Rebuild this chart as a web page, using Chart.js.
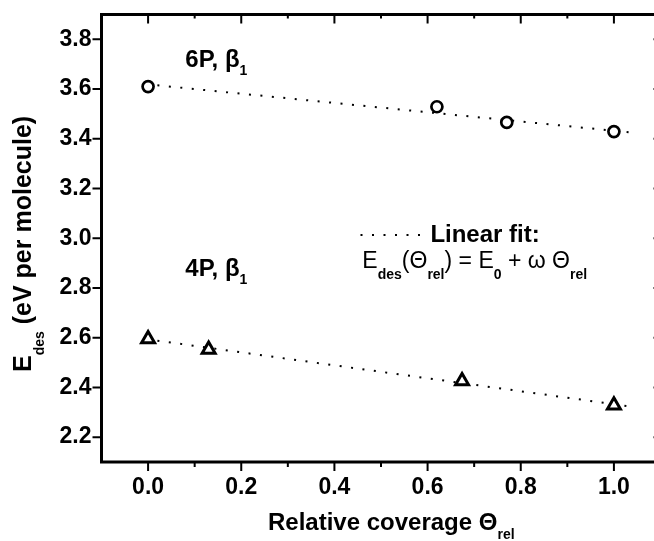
<!DOCTYPE html>
<html lang="en">
<head>
    <meta charset="UTF-8">
    <title>Desorption energy vs relative coverage</title>
    <script src="https://cdn.jsdelivr.net/npm/chart.js@4.4.0/dist/chart.umd.min.js"></script>
    <style>
        html, body {
            margin: 0;
            padding: 0;
            background: #fff;
            overflow: hidden;
        }
    </style>
</head>
<body>
    <canvas id="chart" width="671" height="541"></canvas>

    <script>
        // tick positions / labels
        const xTicks = [0.0, 0.2, 0.4, 0.6, 0.8, 1.0];
        const xMinorTicks = [0.1, 0.3, 0.5, 0.7, 0.9];
        const yTicks = [2.2, 2.4, 2.6, 2.8, 3.0, 3.2, 3.4, 3.6, 3.8];

        // 6P, beta1 (circles)
        const cover6P = [0.0, 0.62, 0.77, 1.0];
        const edes6P = [3.61, 3.529, 3.466, 3.429];

        // 4P, beta1 (triangles)
        const cover4P = [0.0, 0.13, 0.674, 1.0];
        const edes4P = [2.595, 2.553, 2.426, 2.328];

        // linear fits (end points)
        const fitX = [0.02, 1.04];
        const fit6P = [3.615, 3.425];
        const fit4P = [2.588, 2.322];

        const FAMILY = '"Liberation Sans", Arial, sans-serif';
        const bold = s => `bold ${s}px ${FAMILY}`;
        const plain = s => `${s}px ${FAMILY}`;

        function pts(xs, ys) {
            return xs.map((v, i) => ({ x: v, y: ys[i] }));
        }

        // draw a run of text pieces, some of them lowered as subscripts
        function drawRich(ctx, parts, x, y) {
            parts.forEach(p => {
                ctx.font = p.font;
                ctx.fillText(p.t, x, y + (p.dy || 0));
                x += ctx.measureText(p.t).width;
            });
        }

        const framePlugin = {
            id: 'frame',
            afterDraw(chart) {
                const { ctx, chartArea: a, scales: { x, y } } = chart;
                ctx.save();
                ctx.strokeStyle = '#000';
                ctx.fillStyle = '#000';

                // box
                ctx.lineWidth = 3;
                ctx.strokeRect(a.left, a.top, a.right - a.left, a.bottom - a.top);

                // ticks
                ctx.lineWidth = 2;
                ctx.beginPath();
                xTicks.forEach(v => {
                    const px = x.getPixelForValue(v);
                    ctx.moveTo(px, a.bottom); ctx.lineTo(px, a.bottom + 9);
                    ctx.moveTo(px, a.top); ctx.lineTo(px, a.top + 9);
                });
                xMinorTicks.forEach(v => {
                    const px = x.getPixelForValue(v);
                    ctx.moveTo(px, a.bottom); ctx.lineTo(px, a.bottom + 5);
                    ctx.moveTo(px, a.top); ctx.lineTo(px, a.top + 4);
                });
                yTicks.forEach(v => {
                    const py = y.getPixelForValue(v);
                    ctx.moveTo(a.left, py); ctx.lineTo(a.left - 9, py);
                    ctx.moveTo(a.right, py); ctx.lineTo(a.right - 7, py);
                });
                ctx.stroke();

                // series labels
                ctx.textAlign = 'left';
                ctx.textBaseline = 'alphabetic';
                drawRich(ctx, [
                    { t: '6P, β', font: bold(24) },
                    { t: '1', font: bold(14), dy: 8 }
                ], x.getPixelForValue(0.08), y.getPixelForValue(3.689));
                drawRich(ctx, [
                    { t: '4P, β', font: bold(24) },
                    { t: '1', font: bold(14), dy: 8 }
                ], x.getPixelForValue(0.08), y.getPixelForValue(2.848));

                // legend for the fit
                const ly = y.getPixelForValue(3.013);
                ctx.save();
                ctx.lineWidth = 2;
                ctx.setLineDash([2, 9.5]);
                ctx.beginPath();
                ctx.moveTo(x.getPixelForValue(0.456), ly);
                ctx.lineTo(x.getPixelForValue(0.585), ly);
                ctx.stroke();
                ctx.restore();
                ctx.font = bold(24);
                ctx.fillText('Linear fit:', x.getPixelForValue(0.606), y.getPixelForValue(2.985));

                drawRich(ctx, [
                    { t: 'E', font: plain(23) },
                    { t: 'des', font: bold(14), dy: 11 },
                    { t: '(Θ', font: plain(23) },
                    { t: 'rel', font: bold(14), dy: 11 },
                    { t: ') = E', font: plain(23) },
                    { t: '0', font: bold(14), dy: 11 },
                    { t: ' + ω Θ', font: plain(23) },
                    { t: 'rel', font: bold(14), dy: 11 }
                ], x.getPixelForValue(0.46), y.getPixelForValue(2.881));

                // axis titles
                drawRich(ctx, [
                    { t: 'Relative coverage Θ', font: bold(24) },
                    { t: 'rel', font: bold(14), dy: 9 }
                ], 268, 530);

                ctx.translate(31, 372);
                ctx.rotate(-Math.PI / 2);
                drawRich(ctx, [
                    { t: 'E', font: bold(25) },
                    { t: 'des', font: bold(14), dy: 13 },
                    { t: ' (eV per molecule)', font: bold(25) }
                ], 0, 0);

                ctx.restore();
            }
        };

        new Chart(document.getElementById('chart'), {
            type: 'scatter',
            data: {
                datasets: [
                    {
                        label: '6P',
                        data: pts(cover6P, edes6P),
                        pointStyle: 'circle',
                        pointRadius: 5.5,
                        pointBorderWidth: 2.7,
                        pointBorderColor: '#000',
                        pointBackgroundColor: '#fff',
                        order: 0
                    },
                    {
                        label: '4P',
                        data: pts(cover4P, edes4P),
                        pointStyle: 'triangle',
                        pointRadius: 7.5,
                        pointBorderWidth: 3,
                        pointBorderColor: '#000',
                        pointBackgroundColor: '#fff',
                        order: 0
                    },
                    {
                        label: 'fit 6P',
                        data: pts(fitX, fit6P),
                        showLine: true,
                        borderColor: '#000',
                        borderWidth: 2,
                        borderDash: [2, 9.5],
                        pointRadius: 0,
                        order: 1
                    },
                    {
                        label: 'fit 4P',
                        data: pts(fitX, fit4P),
                        showLine: true,
                        borderColor: '#000',
                        borderWidth: 2,
                        borderDash: [2, 9.5],
                        pointRadius: 0,
                        order: 1
                    }
                ]
            },
            options: {
                responsive: false,
                animation: false,
                devicePixelRatio: 1,
                layout: { padding: { top: 14.5, right: 2.5, left: 0, bottom: 0 } },
                plugins: {
                    legend: { display: false },
                    tooltip: { enabled: false }
                },
                scales: {
                    x: {
                        type: 'linear',
                        min: -0.1,
                        max: 1.1,
                        afterBuildTicks: s => { s.ticks = xTicks.map(v => ({ value: v })); },
                        afterFit: s => {
                            s.height = 79;
                            s.paddingLeft = 0;
                            s.paddingRight = 0;
                        },
                        grid: { display: false, drawTicks: false },
                        border: { display: false },
                        ticks: {
                            color: '#000',
                            font: { family: FAMILY, size: 23, weight: 'bold' },
                            padding: 12,
                            maxRotation: 0,
                            callback: v => v.toFixed(1)
                        }
                    },
                    y: {
                        type: 'linear',
                        min: 2.1,
                        max: 3.9,
                        afterBuildTicks: s => { s.ticks = yTicks.map(v => ({ value: v })); },
                        afterFit: s => {
                            s.width = 101.5;
                            s.paddingTop = 0;
                            s.paddingBottom = 0;
                        },
                        grid: { display: false, drawTicks: false },
                        border: { display: false },
                        ticks: {
                            color: '#000',
                            font: { family: FAMILY, size: 23, weight: 'bold' },
                            padding: 10,
                            callback: v => v.toFixed(1)
                        }
                    }
                }
            },
            plugins: [framePlugin]
        });
    </script>
</body>
</html>
